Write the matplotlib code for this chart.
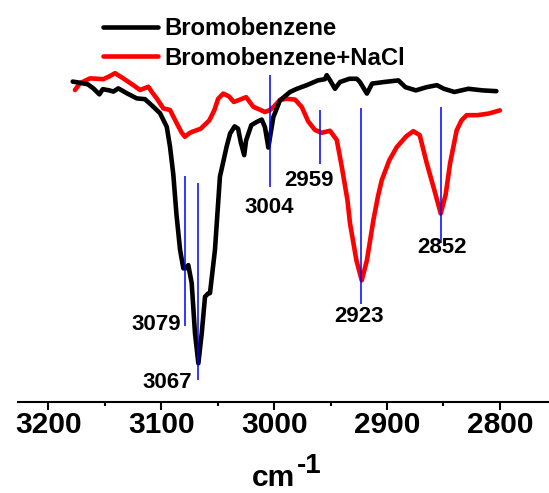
import matplotlib
matplotlib.use("Agg")
import matplotlib.pyplot as plt
from matplotlib.ticker import MultipleLocator

plt.rcParams['font.family'] = ['Liberation Sans', 'DejaVu Sans']
plt.rcParams['font.weight'] = 'bold'

# ---- data (wavenumber in cm^-1, transmittance in arbitrary units) ----
black_wn = [3178.4, 3171.9, 3165.0, 3160.1, 3154.8, 3151.8, 3146.0, 3142.4, 3138.0, 3130.6,
            3121.7, 3114.4, 3107.0, 3101.1, 3095.1, 3092.2, 3089.3, 3086.5, 3083.3, 3080.4,
            3078.5, 3076.0, 3073.0, 3070.1, 3067.1, 3064.1, 3061.2, 3058.5, 3056.8, 3052.4,
            3048.0, 3042.0, 3039.0, 3035.0, 3031.9, 3029.5, 3026.5, 3024.8, 3020.2, 3015.4,
            3011.0, 3008.1, 3005.1, 3003.1, 3000.7, 2994.8, 2985.9, 2979.8, 2971.1, 2961.2,
            2955.0, 2953.4, 2950.4, 2946.1, 2941.6, 2933.3, 2926.8, 2924.0, 2917.8, 2913.2,
            2902.3, 2889.9, 2883.7, 2874.4, 2865.0, 2855.8, 2849.6, 2840.3, 2827.9, 2815.5,
            2803.1]
black_t = [80.2, 79.9, 79.5, 78.5, 77.0, 78.3, 78.0, 77.7, 78.5, 77.3,
           76.0, 75.8, 73.9, 72.3, 68.9, 63.9, 57.0, 47.0, 38.1, 33.5,
           33.5, 34.3, 29.8, 17.3, 9.75, 17.3, 26.4, 27.2, 27.3, 38.1,
           56.4, 64.0, 67.2, 69.0, 68.4, 65.0, 61.8, 65.5, 69.3, 70.1,
           70.7, 68.8, 63.7, 67.2, 71.3, 75.5, 77.6, 78.4, 79.3, 80.5,
           80.8, 81.8, 80.5, 78.4, 80.1, 80.9, 80.9, 80.1, 77.2, 79.7,
           80.1, 80.5, 78.8, 78.0, 78.8, 79.3, 78.4, 77.6, 78.4, 78.0,
           77.8]

red_wn = [3176.4, 3171.9, 3163.1, 3156.0, 3151.3, 3146.0, 3140.9, 3133.6, 3124.7, 3118.8,
          3111.4, 3108.0, 3104.0, 3098.1, 3092.2, 3086.3, 3082.0, 3079.1, 3075.0, 3072.9,
          3065.1, 3057.4, 3053.0, 3049.6, 3045.0, 3040.0, 3035.7, 3030.2, 3024.8, 3018.4,
          3008.1, 3003.6, 3000.0, 2994.8, 2989.0, 2981.5, 2975.6, 2969.7, 2963.8, 2957.9,
          2950.5, 2944.5, 2940.0, 2935.0, 2932.8, 2927.1, 2922.4, 2917.8, 2912.1, 2908.0,
          2904.7, 2898.0, 2891.4, 2883.0, 2876.7, 2871.0, 2864.8, 2858.0, 2852.4, 2848.0,
          2844.1, 2838.3, 2834.0, 2829.4, 2820.0, 2810.0, 2800.0]
red_t = [78.1, 79.8, 81.0, 80.9, 80.8, 81.5, 82.3, 81.0, 79.3, 78.1,
         78.9, 77.5, 76.0, 73.5, 73.1, 69.8, 67.5, 66.4, 67.3, 67.6,
         68.4, 70.5, 73.0, 75.9, 77.2, 76.5, 75.1, 75.7, 76.3, 73.9,
         72.6, 73.1, 74.0, 75.6, 75.9, 75.7, 73.9, 70.2, 68.1, 67.4,
         67.9, 65.6, 58.8, 50.5, 44.8, 35.5, 30.5, 35.5, 45.5, 51.5,
         55.5, 60.5, 63.8, 66.5, 67.8, 66.8, 59.8, 53.0, 47.2, 52.0,
         59.8, 68.0, 70.5, 71.8, 71.8, 72.2, 73.0]

series_labels = ['Bromobenzene', 'Bromobenzene+NaCl']

peak_wn = [3079, 3067, 3004, 2959, 2923, 2852]
peak_labels = ['3079', '3067', '3004', '2959', '2923', '2852']
marker_top = [56.65, 54.9, 81.8, 73.1, 73.65, 73.9]
marker_bottom = [19.15, 5.6, 53.9, 59.6, 24.6, 39.75]
label_wn = [3104.0, 3094.9, 3004.8, 2969.1, 2924.8, 2851.5]
label_t = [18.1, 3.5, 47.25, 54.1, 20.1, 37.25]

xticks = [3200, 3100, 3000, 2900, 2800]

# ---- figure ----
W, H = 549, 493
fig = plt.figure(figsize=(W / 100, H / 100), dpi=100)
ax = fig.add_axes([18.3 / W, 1 - 402.3 / H, 1 - 18.3 / W, 402.3 / H])

l_red, = ax.plot(red_wn, red_t, color='#ff0000', lw=3.3, solid_joinstyle='round',
                 solid_capstyle='round', zorder=2)
l_blk, = ax.plot(black_wn, black_t, color='#000000', lw=3.3, solid_joinstyle='round',
                 solid_capstyle='round', zorder=3)
ax.vlines(peak_wn, marker_bottom, marker_top, colors='#0000ff', lw=1.1, zorder=4)
for wn, t, lab in zip(label_wn, label_t, peak_labels):
    ax.text(wn, t, lab, ha='center', va='baseline', fontsize=16, fontweight='bold', zorder=5)

ax.set_xlim(3226.6, 2756.5)
ax.set_ylim(0, 100.6)
ax.set_xticks(xticks)
ax.xaxis.set_minor_locator(MultipleLocator(50))
ax.set_yticks([])
for s in ['left', 'right', 'top']:
    ax.spines[s].set_visible(False)
ax.spines['bottom'].set_linewidth(1.5)
ax.tick_params(axis='x', which='major', direction='out', length=5.6, width=1.5,
               labelsize=21.5, pad=1)
ax.tick_params(axis='x', which='minor', direction='out', length=2.8, width=1.5)
for lbl in ax.get_xticklabels():
    lbl.set_fontweight('bold')
ax.patch.set_alpha(0)

leg = ax.legend([l_blk, l_red], series_labels, loc='upper left',
                bbox_to_anchor=(102.7 / W, 1 - 17 / H), bbox_transform=fig.transFigure,
                frameon=False, fontsize=17.2, handlelength=2.3, handletextpad=0.3,
                labelspacing=0.28, borderpad=0, borderaxespad=0)
for t in leg.get_texts():
    t.set_fontweight('bold')

fig.text(273.3 / W, 1 - 486.5 / H, 'cm', ha='center', va='baseline', fontsize=21.6,
         fontweight='bold')
fig.text(296.7 / W, 1 - 473 / H, '-1', ha='left', va='baseline', fontsize=20,
         fontweight='bold')

fig.savefig('out.png', dpi=100)
